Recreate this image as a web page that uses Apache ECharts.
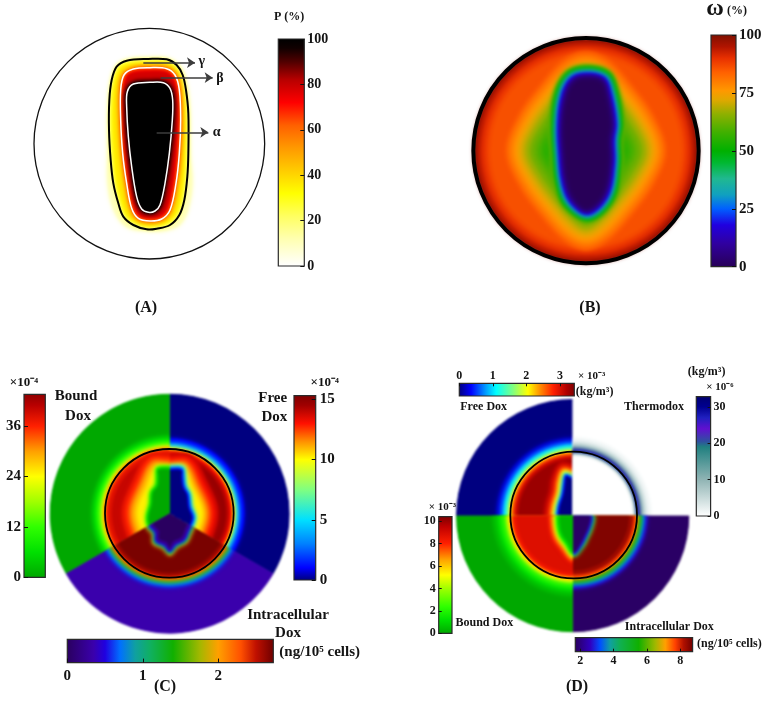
<!DOCTYPE html>
<html><head><meta charset="utf-8">
<style>html,body{margin:0;padding:0;background:#fff}#c{width:767px;height:726px}#c canvas:first-child{filter:blur(0.8px)}</style>
<script src="https://cdn.jsdelivr.net/npm/echarts@6/dist/echarts.min.js"></script>
</head><body><div id="c"></div>
<script>
// ---------- colour scales: [value, colour]
const hotStops=[[0,'#ffffff'],[12,'#ffffb0'],[22,'#ffff60'],[32,'#ffff00'],[42,'#ffcc00'],[52,'#ff9900'],[62,'#ff6000'],[72,'#ff0000'],[82,'#b80000'],[90,'#500000'],[96,'#100000'],[100,'#000000']];
const omegaStops=[[0,'#280058'],[10,'#3000a0'],[18,'#2000e0'],[25,'#0060ff'],[31,'#10a0c0'],[38,'#20b890'],[45,'#00b830'],[50,'#00b000'],[58,'#40b000'],[66,'#90b000'],[72,'#e0a800'],[76,'#ff9800'],[84,'#ff6000'],[90,'#e83000'],[95,'#b01400'],[100,'#801000']];
const cBoundStops=[[0,'#00a800'],[6,'#00e000'],[12,'#30ff00'],[18,'#a0ff00'],[24,'#ffff00'],[30,'#ffa000'],[36,'#ff2000'],[41,'#b80000'],[43.6,'#900000']];
const cFreeStops=[[0,'#000080'],[1,'#0000ff'],[3,'#0080ff'],[5,'#00e0ff'],[7.5,'#80ff80'],[10,'#ffff00'],[11.5,'#ff9000'],[13,'#ff1000'],[14.5,'#a00000'],[15.3,'#800000']];
const cIntraStops=[[0,'#2a0060'],[0.35,'#3a00ac'],[0.5,'#2000e0'],[0.7,'#0070ff'],[0.9,'#10a0a0'],[1.1,'#10b060'],[1.4,'#10b000'],[1.75,'#a0b800'],[2,'#ffa000'],[2.3,'#ff5000'],[2.5,'#c01000'],[2.73,'#700000']];
const dFreeStops=[[0,'#000080'],[0.35,'#0000ff'],[0.8,'#00a0ff'],[1.1,'#00ffff'],[1.6,'#80ff80'],[2.05,'#ffff00'],[2.4,'#ff9000'],[2.8,'#ff2000'],[3.2,'#b00000'],[3.43,'#800000']];
const dThermoStops=[[0,'#ffffff'],[10,'#90b4b4'],[19,'#208080'],[20.5,'#3050a0'],[24,'#6010d0'],[27,'#2020c0'],[30,'#000090'],[32.8,'#000070']];
const dBoundStops=[[0,'#00a800'],[1.2,'#00e000'],[2.4,'#30ff00'],[4,'#a0ff00'],[5.2,'#ffff00'],[6.6,'#ffa000'],[8,'#ff2000'],[9.5,'#c00000'],[10.4,'#800000']];
const dIntraStops=[[1.7,'#2a0060'],[2.6,'#3000c0'],[3.2,'#0050ff'],[3.8,'#10a0a0'],[4.4,'#10b050'],[5.5,'#10b000'],[6.5,'#a0b800'],[7.1,'#ffa000'],[7.7,'#ff4000'],[8.2,'#b01000'],[8.74,'#700000']];

// ---------- colour bar ticks
const aTicks=[0,20,40,60,80,100];
const bTicks=[0,25,50,75,100];
const cBoundTicks=[0,12,24,36];
const cFreeTicks=[0,5,10,15];
const cIntraTicks=[0,1,2];
const dFreeTicks=[0,1,2,3];
const dThermoTicks=[0,10,20,30];
const dBoundTicks=[0,2,4,6,8,10];
const dIntraTicks=[2,4,6,8];

// ---------- contours (panel units)
const aDisc={c:[388,371],r:346};
const aGlow=[[385,112],[440,114],[478,135],[498,175],[510,260],[512,400],[518,490],[505,570],[480,615],[440,632],[385,634],[320,622],[280,570],[262,490],[262,400],[264,260],[272,180],[290,135],[325,116]];
const aOuter=[[385,117],[440,118],[470,135],[488,165],[498,210],[505,280],[505,400],[502,470],[493,540],[478,585],[450,615],[410,626],[380,628],[340,615],[310,590],[295,550],[280,490],[272,420],[267,330],[268,240],[275,180],[290,140],[320,122]];
const aWhiteOut=[[390,143],[440,146],[465,165],[478,210],[482,300],[478,400],[468,490],[450,570],[425,597],[390,603],[355,595],[335,565],[320,490],[308,400],[302,300],[302,210],[312,165],[340,147]];
const aWhiteIn=[[390,187],[430,188],[450,205],[458,240],[457,300],[448,400],[435,490],[420,555],[405,573],[385,577],[365,567],[350,530],[335,440],[325,350],[320,260],[322,215],[340,192]];
const bDisc={c:[438,392],r:336};
const bRim={c:[438,392],r:338};
const bLens=[[438,115],[495,135],[560,205],[625,295],[660,392],[625,485],[560,575],[495,645],[438,670],[381,645],[316,575],[251,485],[216,392],[251,295],[316,205],[381,135]];
const bCore=[[445,158],[495,172],[515,220],[530,310],[524,360],[525,430],[505,530],[445,585],[390,550],[365,490],[355,400],[352,310],[365,220],[395,170]];
const cDisc={c:[509,461],r:360};
const cCircle={c:[508,460],r:193};
const cLens=[[509,295],[568,298],[606,365],[640,450],[625,525],[580,595],[509,620],[438,595],[395,525],[380,450],[412,365],[450,298]];
const cTumour=[[509,318],[550,320],[556,345],[560,378],[572,400],[577,440],[588,470],[582,495],[572,515],[558,545],[530,560],[510,582],[490,562],[462,548],[460,520],[442,500],[437,470],[447,430],[450,395],[465,375],[467,345],[470,322]];
const dDisc={c:[518,467],r:350};
const dCircle={c:[521,465],r:190};
const dTumour=[[521,350],[495,340],[487,365],[482,400],[470,440],[467,480],[475,525],[495,555],[521,588],[550,558],[562,535],[575,505],[582,470],[570,440],[560,400],[540,350]];

const shapes=[aDisc,aGlow,aOuter,aWhiteOut,aWhiteIn,bDisc,bRim,bLens,bCore,cDisc,cCircle,cLens,cTumour,dDisc,dCircle,dTumour];
const [AD,AG,AO,AW,AI,BD,BR,BL,BC,CD,CC,CL,CT,DD,DC,DT]=shapes.map((s,i)=>i);

// ---------- field levels: [value, offset from contour, contour]
const aLevels=[[10,0,AG],[18,-2,AO],[24,-5,AO],[30,-9,AO],[36,-13,AO],[42,8,AW],[50,4,AW],[58,0,AW],[64,-4,AW],[72,-8,AW],[78,-12,AW],[84,8,AI],[90,4,AI],[97,0,AI],[100,-2,AI]];
const bLevels=[[100,0,BD],[97,-6,BD],[94,-12,BD],[91,-22,BD],[89,-32,BD],[87,-42,BD],[86,-52,BD],
 [85,22,BL],[83,14,BL],[81,7,BL],[79,0,BL],[77,-8,BL],[75,-15,BL],[73,-23,BL],[71,-30,BL],[69,-38,BL],[67,-45,BL],[64,-55,BL],[62,-65,BL],[60,-75,BL],[58,-85,BL],[56,-95,BL],[54,-105,BL],
 [64,24,BC],[58,20,BC],[52,16,BC],[47,12,BC],[42,8,BC],[36,5,BC],[30,3,BC],[22,0,BC],[16,-4,BC],[12,-8,BC],[8,-11,BC],[4,-14,BC],[1,-20,BC],[0,-28,BC]];
const cFreeLevels=[[0,0,CD],[1,32,CC],[2,22,CC],[3.5,15,CC],[5,9,CC],[7,5,CC],[10,2,CC],[11.5,-3,CC],[13,-8,CC],[14,-15,CC],[14.7,-24,CC],[13.8,14,CL],[13.2,4,CL],[12.6,-6,CL],[12,-14,CL],[11.5,-20,CL],[11,-26,CL],[10.6,-31,CL],[10.2,-36,CL],[9.5,3,CT],[7.5,1,CT],[5,-3,CT],[3,-7,CT],[1,-10,CT],[0,-14,CT]];
const cBoundLevels=[[0,0,CD],[2,42,CC],[4,35,CC],[6,30,CC],[9,25,CC],[12,20,CC],[18,12,CC],[24,6,CC],[30,2,CC],[35,-3,CC],[38,-10,CC],[40,-22,CC],[38,14,CL],[36,4,CL],[33.5,-6,CL],[31,-14,CL],[29.5,-20,CL],[28,-26,CL],[26.5,-31,CL],[25,-36,CL],[22,3,CT],[15,0,CT],[9,-4,CT],[3,-8,CT],[0,-12,CT]];
const cIntraLevels=[[0.35,0,CD],[0.55,30,CC],[0.7,24,CC],[0.9,18,CC],[1.2,13,CC],[1.6,9,CC],[2,5,CC],[2.3,2,CC],[2.5,-3,CC],[2.62,-10,CC],[2.7,-18,CC],[2.1,5,CT],[1.6,2,CT],[1.1,-2,CT],[0.8,-5,CT],[0.5,-8,CT],[0.3,-11,CT],[0,-20,CT]];
const dFreeLevels=[[0,0,DD],[0.2,42,DC],[0.5,32,DC],[0.9,22,DC],[1.2,14,DC],[1.6,8,DC],[2.05,2,DC],[2.5,-4,DC],[2.9,-12,DC],[3.1,-18,DC],[3.3,-25,DC],[3.15,36,DT],[3,28,DT],[2.75,20,DT],[2.5,14,DT],[2.25,10,DT],[2.05,6,DT],[1.5,1,DT],[0.9,-3,DT],[0.4,-6,DT],[0,-11,DT]];
const dThermoLevels=[[0,0,DD],[1,42,DC],[3,30,DC],[6,22,DC],[10,14,DC],[16,9,DC],[22,6,DC],[26,3.5,DC],[31,0.5,DC],[20,-3,DC],[8,-7,DC],[2,-11,DC],[0,-15,DC]];
const dBoundLevels=[[0,0,DD],[0.3,55,DC],[0.6,46,DC],[1,38,DC],[1.5,31,DC],[2,25,DC],[3.5,14,DC],[5.2,7,DC],[6.5,1,DC],[8,-7,DC],[8.4,-13,DC],[8.8,-20,DC],[8,20,DT],[7.2,13,DT],[6.5,8,DT],[5.2,3,DT],[3.5,0,DT],[2,-4,DT],[1,-8,DT],[0.3,-14,DT]];
const dIntraLevels=[[1.75,0,DD],[2.6,32,DC],[3.2,24,DC],[3.8,18,DC],[4.5,13,DC],[5.5,8,DC],[6.5,4,DC],[7.2,0,DC],[7.7,-4,DC],[8.3,-12,DC],[8.6,-25,DC],[6.5,3,DT],[5,0,DT],[3.8,-3,DT],[3.1,-6,DT],[2.4,-9,DT],[1.75,-14,DT]];

// ---------- arrows and labels of panel A
const aArrows=[[[370,128],[525,128]],[[422,173],[578,173]],[[410,337],[565,337]]];

// ---------- helpers
const FONT='"Liberation Serif","Times New Roman",serif', INK='#141414';
const ramp=stops=>v=>{
  if(v<=stops[0][0])return stops[0][1];
  for(let i=1;i<stops.length;i++) if(v<=stops[i][0]){
    const t=(v-stops[i-1][0])/(stops[i][0]-stops[i-1][0]);
    return echarts.color.lerp(t,[stops[i-1][1],stops[i][1]]);
  }
  return stops[stops.length-1][1];
};
function offsetPoly(p,d){
  let a=0;const n=p.length;
  for(let i=0;i<n;i++){const q=p[(i+1)%n];a+=p[i][0]*q[1]-q[0]*p[i][1];}
  const s=a>0?1:-1;
  return p.map((pt,i)=>{
    const u=p[(i+n-1)%n],w=p[(i+1)%n];
    let tx=w[0]-u[0],ty=w[1]-u[1];const l=Math.hypot(tx,ty)||1;tx/=l;ty/=l;
    return [pt[0]+s*d*ty,pt[1]-s*d*tx];
  });
}
function shapeEl(api,shape,d,style){
  if(Array.isArray(shape)){
    const pts=offsetPoly(shape,d).map(q=>api.coord(q));
    return {type:'polygon',shape:{points:pts,smooth:0.35},style};
  }
  const c=api.coord(shape.c),r=api.size([shape.r+d,0])[0];
  return {type:'circle',shape:{cx:c[0],cy:c[1],r},style};
}
const panels={A:{left:20,top:20,width:330,height:260},B:{left:440,top:20,width:327,height:260},C:{left:0,top:360,width:380,height:320},D:{left:400,top:360,width:367,height:320}};
const grid=[],xAxis=[],yAxis=[],series=[],graphic=[];
function addPanel(name){
  const p=panels[name],i=grid.length;
  grid.push({...p,show:false});
  xAxis.push({type:'value',gridIndex:i,min:0,max:p.width*3,show:false});
  yAxis.push({type:'value',gridIndex:i,min:0,max:p.height*3,inverse:true,show:false});
  p.idx=i;
}
Object.keys(panels).forEach(addPanel);
function field(panel,name,levels,stops,blur,clip){
  const col=ramp(stops),i=panels[panel].idx;
  series.push({type:'custom',name,coordinateSystem:'cartesian2d',xAxisIndex:i,yAxisIndex:i,zlevel:0,z:2,clip:false,silent:true,data:levels,encode:{x:1,y:1},
    renderItem(params,api){
      const v=api.value(0),col0=col(v);
      const el=shapeEl(api,shapes[api.value(2)],api.value(1),{fill:col0,shadowBlur:blur,shadowColor:col0});
      if(clip){
        const c=api.coord(clip.c),r=api.size([clip.r,0])[0];
        el.clipPath={type:'sector',shape:{cx:c[0],cy:c[1],r0:0,r,startAngle:clip.a0*Math.PI/180,endAngle:clip.a1*Math.PI/180,clockwise:true}};
      }
      return el;
    }});
}
function outline(panel,shapeIdx,color,width){
  const i=panels[panel].idx;
  series.push({type:'custom',coordinateSystem:'cartesian2d',xAxisIndex:i,yAxisIndex:i,zlevel:1,z:3,clip:false,silent:true,data:[[shapeIdx,0,0]],encode:{x:1,y:1},
    renderItem(params,api){return shapeEl(api,shapes[api.value(0)],0,{fill:'none',stroke:color,lineWidth:width});}});
}
function colorBar(o){
  const i=grid.length,horiz=o.orient==='h';
  grid.push({left:o.left,top:o.top,width:o.width,height:o.height,show:true,backgroundColor:'transparent',borderColor:'#2a2a2a',borderWidth:1.2,zlevel:1,z:3});
  const val={type:'value',gridIndex:i,min:o.min,max:o.max,position:o.side,zlevel:1,z:4,
    axisLine:{show:false},splitLine:{show:false},
    axisTick:{show:true,inside:true,length:o.tick||4,customValues:o.ticks,lineStyle:{color:'#111',width:1}},
    axisLabel:{show:true,customValues:o.ticks,margin:o.margin===undefined?4:o.margin,color:INK,fontFamily:FONT,fontWeight:'bold',fontSize:o.size,padding:o.lift?[0,0,o.lift,0]:0}};
  const cat={type:'category',gridIndex:i,data:['bar'],show:false};
  xAxis.push(horiz?val:cat);yAxis.push(horiz?cat:val);
  const n=o.max-o.min;
  const colorStops=o.stops.map(s=>({offset:Math.min(1,Math.max(0,(s[0]-o.min)/n)),color:s[1]}));
  series.push({type:'bar',xAxisIndex:i,yAxisIndex:i,zlevel:1,z:1,silent:true,barWidth:'100%',data:[o.max],
    itemStyle:{color:horiz?new echarts.graphic.LinearGradient(0,0,1,0,colorStops):new echarts.graphic.LinearGradient(0,1,0,0,colorStops)}});
}
function txt(p,s,u,v,size,align,weight){
  const c=panels[p];
  graphic.push({type:'text',zlevel:1,z:20,silent:true,x:c.left+u/3,y:c.top+v/3,style:{text:s,fill:INK,textAlign:align||'center',textVerticalAlign:'middle',verticalAlign:'middle',font:(weight||'bold')+' '+size+'px '+FONT}});
}

// ---------- panel A
field('A','P',aLevels,hotStops,4);
outline('A',AD,'#111',1.3);
outline('A',AO,'#000',2);
outline('A',AW,'#fff',1.5);
outline('A',AI,'#fff',1.5);
series.push({type:'lines',coordinateSystem:'cartesian2d',xAxisIndex:panels.A.idx,yAxisIndex:panels.A.idx,zlevel:1,z:4,silent:true,symbol:['none','arrow'],symbolSize:8,
  lineStyle:{color:'#3c3c3c',width:1.5,opacity:1,curveness:0},data:aArrows.map(c=>({coords:c}))});
txt('A','γ',545,125,14);txt('A','β',600,175,14);txt('A','α',590,337,14);
txt('A','P (%)',0,0,12,'left');graphic[graphic.length-1].x=274;graphic[graphic.length-1].y=17;
colorBar({left:278.3,top:39,width:26,height:227,min:0,max:100,ticks:aTicks,stops:hotStops,side:'right',size:14,margin:3,lift:5});
txt('A','(A)',378,864,16);

// ---------- panel B
field('B','omega',bLevels,omegaStops,4);
outline('B',BR,'#000',4);
colorBar({left:711,top:35,width:25,height:231.7,min:0,max:100,ticks:bTicks,stops:omegaStops,side:'right',size:15,margin:3,lift:6});
txt('B','ω',825,-33,24);txt('B','(%)',891,-27,12);
txt('B','(B)',450,864,16);

// ---------- panel C
const C={c:cDisc.c,r:cDisc.r};
field('C','Free Dox',cFreeLevels,cFreeStops,4,{...C,a0:-90,a1:30});
field('C','Bound Dox',cBoundLevels,cBoundStops,4,{...C,a0:150,a1:270});
field('C','Intracellular Dox',cIntraLevels,cIntraStops,4,{...C,a0:30,a1:150});
outline('C',CC,'#000',1.8);
colorBar({left:24,top:394.3,width:21.3,height:183,min:0,max:43.6,ticks:cBoundTicks,stops:cBoundStops,side:'left',size:15,margin:3});
colorBar({left:294,top:395.7,width:21.7,height:184.3,min:0,max:15.3,ticks:cFreeTicks,stops:cFreeStops,side:'right',size:15,margin:4});
colorBar({left:67.3,top:639.3,width:206,height:23.3,min:0,max:2.73,ticks:cIntraTicks,stops:cIntraStops,side:'bottom',orient:'h',size:15,margin:6});
txt('C','×10⁻⁴',72,68,13);txt('C','×10⁻⁴',974,68,13);
txt('C','Bound',228,108,15);txt('C','Dox',234,167,15);
txt('C','Free',818,115,15);txt('C','Dox',823,172,15);
txt('C','Intracellular',864,765,15);txt('C','Dox',864,820,15);
txt('C','(ng/10⁵ cells)',959,875,15);
txt('C','(C)',495,982,16);

// ---------- panel D
const Q={c:dDisc.c,r:dDisc.r};
field('D','Free Dox',dFreeLevels,dFreeStops,4,{...Q,a0:180,a1:270});
field('D','Thermodox',dThermoLevels,dThermoStops,4,{...Q,a0:270,a1:360});
field('D','Intracellular Dox',dIntraLevels,dIntraStops,4,{...Q,a0:0,a1:90});
field('D','Bound Dox',dBoundLevels,dBoundStops,4,{...Q,a0:90,a1:180});
outline('D',DC,'#000',1.8);
colorBar({left:459.3,top:383.3,width:115,height:12.7,min:0,max:3.43,ticks:dFreeTicks,stops:dFreeStops,side:'top',orient:'h',size:12,margin:1,tick:3});
colorBar({left:696.3,top:396.7,width:14.3,height:119.3,min:0,max:32.8,ticks:dThermoTicks,stops:dThermoStops,side:'right',size:12,margin:3,tick:3});
colorBar({left:438.7,top:516.7,width:13.3,height:116.7,min:0,max:10.4,ticks:dBoundTicks,stops:dBoundStops,side:'left',size:12,margin:3,tick:3});
colorBar({left:575.3,top:637.7,width:117.3,height:14,min:1.7,max:8.74,ticks:dIntraTicks,stops:dIntraStops,side:'bottom',orient:'h',size:12,margin:3,tick:3});
txt('D','× 10⁻³',575,48,11);txt('D','(kg/m³)',584,95,12);
txt('D','(kg/m³)',920,35,12);txt('D','× 10⁻⁶',960,80,11);
txt('D','× 10⁻³',127,440,11);
txt('D','Free Dox',251,140,12);txt('D','Thermodox',762,140,12);
txt('D','Bound Dox',253,790,12);txt('D','Intracellular Dox',808,800,12);
txt('D','(ng/10⁵ cells)',988,853,12);
txt('D','(D)',531,982,16);

const chart=echarts.init(document.getElementById('c'),null,{renderer:'canvas'});
chart.setOption({animation:false,backgroundColor:'#fff',grid,xAxis,yAxis,series,graphic:{elements:graphic}});
</script></body></html>
